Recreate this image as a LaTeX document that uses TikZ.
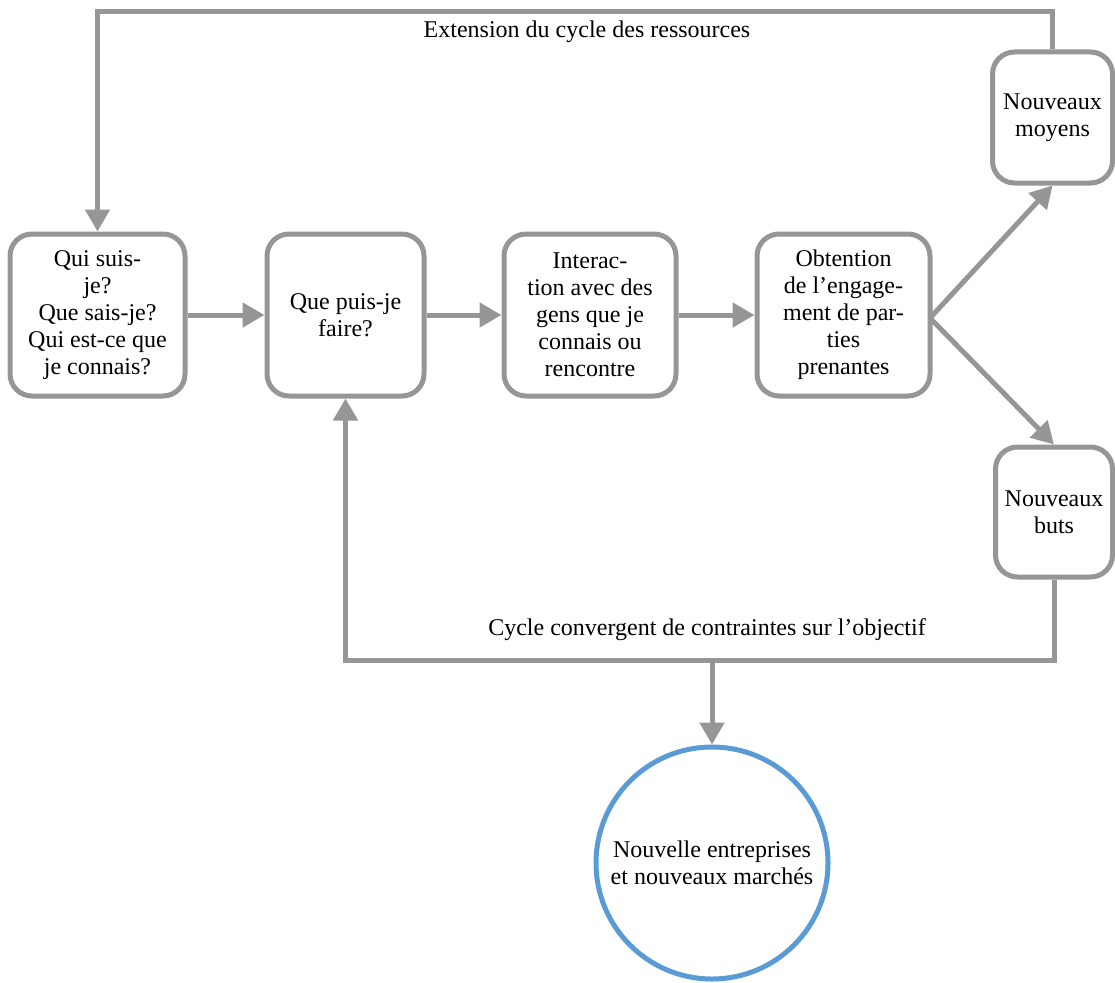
\documentclass[tikz,border=0pt]{standalone}
\usepackage{fontspec}
\setmainfont{Liberation Serif}
\usetikzlibrary{arrows.meta}
\definecolor{lg}{RGB}{150,150,150}
\definecolor{cblue}{RGB}{91,155,213}
\tikzset{
  x=1pt,y=-1pt,
  box/.style={draw=lg,line width=5pt,rounded corners=22pt,fill=white,inner sep=0pt,align=center,
    font=\fontsize{24}{27}\selectfont},
  conn/.style={draw=lg,line width=5pt},
  arr/.style={conn,-{Triangle[width=24pt,length=22pt]}},
  lbl/.style={font=\fontsize{24}{27}\selectfont,inner sep=0pt},
}
\begin{document}
\begin{tikzpicture}
\useasboundingbox (0,0) rectangle (1115,982);
\node[box,minimum width=175pt,minimum height=162pt] (b1) at (97.5,315) {Qui suis-\hspace{12pt}\\ je?\\ Que sais-je?\\ Qui est-ce que\\ je connais?};
\node[box,minimum width=157pt,minimum height=162pt] (b2) at (345.5,315) {Que puis-je\\ faire?};
\node[box,minimum width=172pt,minimum height=162pt] (b3) at (590,315) {Interac-\hspace{8pt}\\ tion avec des\\ gens que je\\ connais ou\\ rencontre};
\node[box,minimum width=173pt,minimum height=162pt] (b4) at (843.5,315) {Obtention\hspace{8pt}\\ de l'engage-\\ ment de par-\\ ties\\ prenantes};
\node[box,minimum width=120pt,minimum height=131pt] (b5) at (1052.5,117.5) {Nouveaux\\ moyens};
\node[box,minimum width=117pt,minimum height=130pt] (b6) at (1054,512) {Nouveaux\\ buts};
\node[draw=cblue,line width=5pt,circle,minimum size=232pt,inner sep=0pt,align=center,
  font=\fontsize{24}{27}\selectfont] (c) at (712,863) {Nouvelle entreprises\\ et nouveaux marchés};

\draw[arr] (b1) -- (b2);
\draw[arr] (b2) -- (b3);
\draw[arr] (b3) -- (b4);
\coordinate (split) at (930,318);
\draw[arr] (split) -- (b5.south);
\draw[arr] (split) -- (b6.north);

\coordinate (tl) at (97.5,12);
\draw[arr] (b5.north) |- (tl) -- (b1.north);
\coordinate (bl) at (345.5,660);
\draw[arr] (b6.south) |- (bl) -- (b2.south);
\coordinate (mid) at (712,660);
\draw[arr] (mid) -- (c.north);

\node[lbl] (t1) at (587,32) {Extension du cycle des ressources};
\node[lbl] (t2) at (707,630) {Cycle convergent de contraintes sur l'objectif};
\end{tikzpicture}
\end{document}
